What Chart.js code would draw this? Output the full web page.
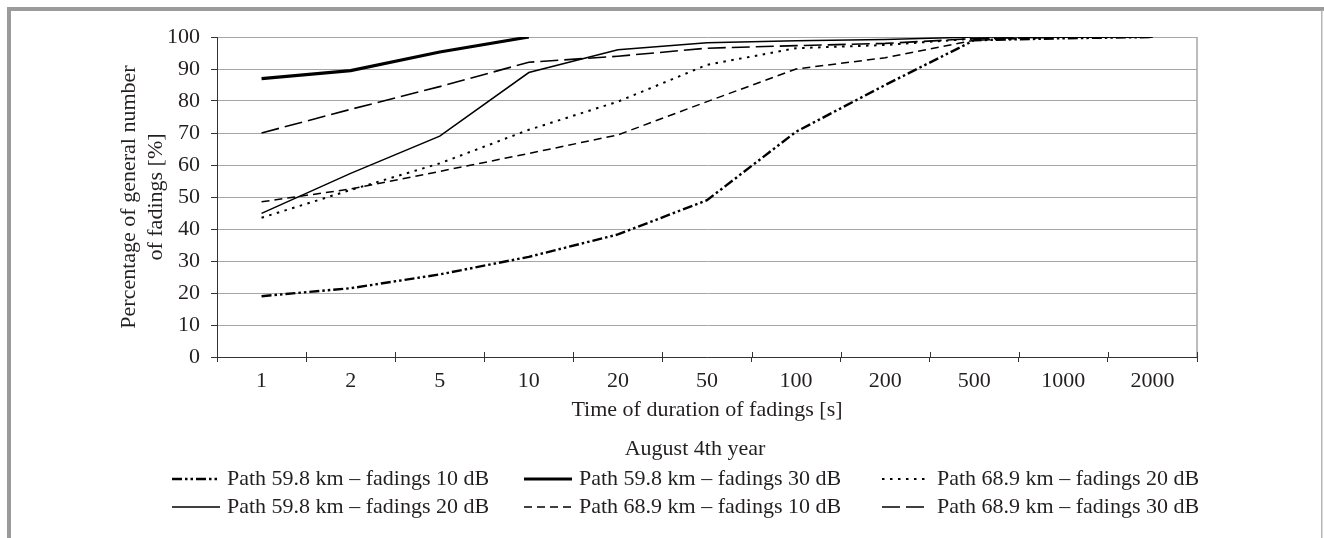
<!DOCTYPE html>
<html>
<head>
<meta charset="utf-8">
<script src="https://cdn.jsdelivr.net/npm/chart.js@4.4.1/dist/chart.umd.min.js"></script>
<style>
html,body{margin:0;padding:0;background:#fff;}
#wrap{width:1324px;height:538px;position:relative;}
</style>
</head>
<body>
<div id="wrap"><canvas id="c"></canvas></div>
<script>
// ---- data ----
const categories = ['1','2','5','10','20','50','100','200','500','1000','2000'];
const yTicks = [0,10,20,30,40,50,60,70,80,90,100];
const seriesNames = [
  'Path 59.8 km \u2013 fadings 10 dB',
  'Path 59.8 km \u2013 fadings 20 dB',
  'Path 59.8 km \u2013 fadings 30 dB',
  'Path 68.9 km \u2013 fadings 10 dB',
  'Path 68.9 km \u2013 fadings 20 dB',
  'Path 68.9 km \u2013 fadings 30 dB'
];
const path598_10dB = [19, 21.5, 25.8, 31.3, 38.3, 49, 70.4, 85, 99, 99.6, 100];
const path598_20dB = [44.9, 57.4, 69, 88.9, 96, 98.2, 98.8, 99.2, 100, 100, 100];
const path598_30dB = [87, 89.5, 95.3, 100];
const path689_10dB = [48.5, 52.5, 58, 63.6, 69.4, 79.8, 90, 93.5, 99, 100, 100];
const path689_20dB = [43.5, 52.2, 60.5, 71, 79.8, 91.3, 96.5, 97.5, 99.5, 100, 100];
const path689_30dB = [70, 77.4, 84.5, 92.1, 94, 96.5, 97.3, 98, 99.5, 100, 100];
const legendTitle = 'August 4th year';
const xTitle = 'Time of duration of fadings [s]';
const yTitle = ['Percentage of general number', 'of fadings [%]'];

// ---- styles ----
const TXT = '#231f20';
const FONT = {family: '"Liberation Serif", "Times New Roman", serif', size: 22, lineHeight: 1.2};
const styles = [
  {borderWidth: 2.4, borderDash: [10, 3, 2.5, 3, 2.5, 3]},
  {borderWidth: 1.5, borderDash: []},
  {borderWidth: 3.2, borderDash: []},
  {borderWidth: 1.5, borderDash: [8, 5]},
  {borderWidth: 2, borderDash: [2.5, 5.5]},
  {borderWidth: 1.6, borderDash: [18, 6]}
];
const seriesData = [path598_10dB, path598_20dB, path598_30dB, path689_10dB, path689_20dB, path689_30dB];

const datasets = seriesData.map((d, i) => ({
  label: seriesNames[i],
  data: d,
  borderColor: '#000',
  backgroundColor: '#000',
  borderWidth: styles[i].borderWidth,
  borderDash: styles[i].borderDash,
  pointRadius: 0,
  tension: 0,
  fill: false
}));

const framePlugin = {
  id: 'frame',
  beforeDraw(chart) {
    const ctx = chart.ctx;
    ctx.save();
    ctx.fillStyle = '#fff';
    ctx.fillRect(0, 0, chart.width, chart.height);
    ctx.fillStyle = '#9b9b9b';
    ctx.fillRect(7, 7, chart.width - 7, 4);
    ctx.fillRect(7, 7, 4, chart.height - 7);
    ctx.fillStyle = '#b5b5b5';
    ctx.fillRect(1321, 10, 1.5, chart.height - 10);
    ctx.restore();
  },
  afterDatasetsDraw(chart) {
    const ctx = chart.ctx;
    const a = chart.chartArea;
    const xs = chart.scales.x;
    ctx.save();
    // right border of plot
    ctx.strokeStyle = '#a6a6a6';
    ctx.lineWidth = 1.5;
    ctx.beginPath();
    ctx.moveTo(a.right, a.top);
    ctx.lineTo(a.right, a.bottom);
    ctx.stroke();
    // tick marks crossing the axis (upper part)
    const half = (xs.getPixelForValue(1) - xs.getPixelForValue(0)) / 2;
    ctx.strokeStyle = '#333';
    ctx.lineWidth = 1;
    for (let i = 0; i <= categories.length; i++) {
      const px = Math.round(xs.getPixelForValue(i) - half) + 0.5;
      ctx.beginPath();
      ctx.moveTo(px, a.bottom - 5);
      ctx.lineTo(px, a.bottom);
      ctx.stroke();
    }
    ctx.restore();
  },
  afterDraw(chart) {
    const ctx = chart.ctx;
    const ds = chart.data.datasets;
    const textX = [227, 579, 937];
    const rowY = [479, 507];
    const sample = 48, gap = 7;
    ctx.save();
    ctx.font = FONT.size + 'px ' + FONT.family;
    ctx.fillStyle = TXT;
    ctx.textBaseline = 'middle';
    ctx.textAlign = 'center';
    ctx.fillText(legendTitle, 695, 449);
    ctx.textAlign = 'left';
    ds.forEach((d, i) => {
      const col = Math.floor(i / 2), row = i % 2;
      const tx = textX[col], y = rowY[row];
      ctx.strokeStyle = d.borderColor;
      ctx.lineWidth = d.borderWidth;
      ctx.setLineDash(d.borderDash || []);
      ctx.beginPath();
      ctx.moveTo(tx - gap - sample, y);
      ctx.lineTo(tx - gap, y);
      ctx.stroke();
      ctx.setLineDash([]);
      ctx.fillText(d.label, tx, y);
    });
    ctx.restore();
  }
};

new Chart(document.getElementById('c'), {
  type: 'line',
  data: {labels: categories, datasets: datasets},
  options: {
    responsive: true,
    maintainAspectRatio: false,
    animation: false,
    events: [],
    layout: {padding: {left: 116, right: 127, top: 37, bottom: 115}},
    plugins: {legend: {display: false}, tooltip: {enabled: false}, title: {display: false}},
    scales: {
      x: {
        offset: true,
        afterFit: s => { s.height = 66; },
        grid: {offset: true, drawOnChartArea: false, drawTicks: true, tickLength: 5, color: '#333'},
        border: {color: '#333', width: 1},
        ticks: {font: FONT, color: TXT, padding: 6, maxRotation: 0, autoSkip: false},
        title: {display: true, text: xTitle, font: FONT, color: TXT, padding: {top: 4, bottom: 0}}
      },
      y: {
        min: 0, max: 100,
        afterFit: s => { s.width = 101; },
        afterBuildTicks: s => { s.ticks = yTicks.map(v => ({value: v})); },
        grid: {color: '#a6a6a6', lineWidth: 1, tickLength: 6, tickColor: '#333'},
        border: {color: '#333', width: 1},
        ticks: {font: FONT, color: TXT, padding: 11},
        title: {display: true, text: yTitle, font: Object.assign({}, FONT, {lineHeight: 1.23}), color: TXT, padding: {top: 0, bottom: 0}}
      }
    }
  },
  plugins: [framePlugin]
});
</script>
</body>
</html>
